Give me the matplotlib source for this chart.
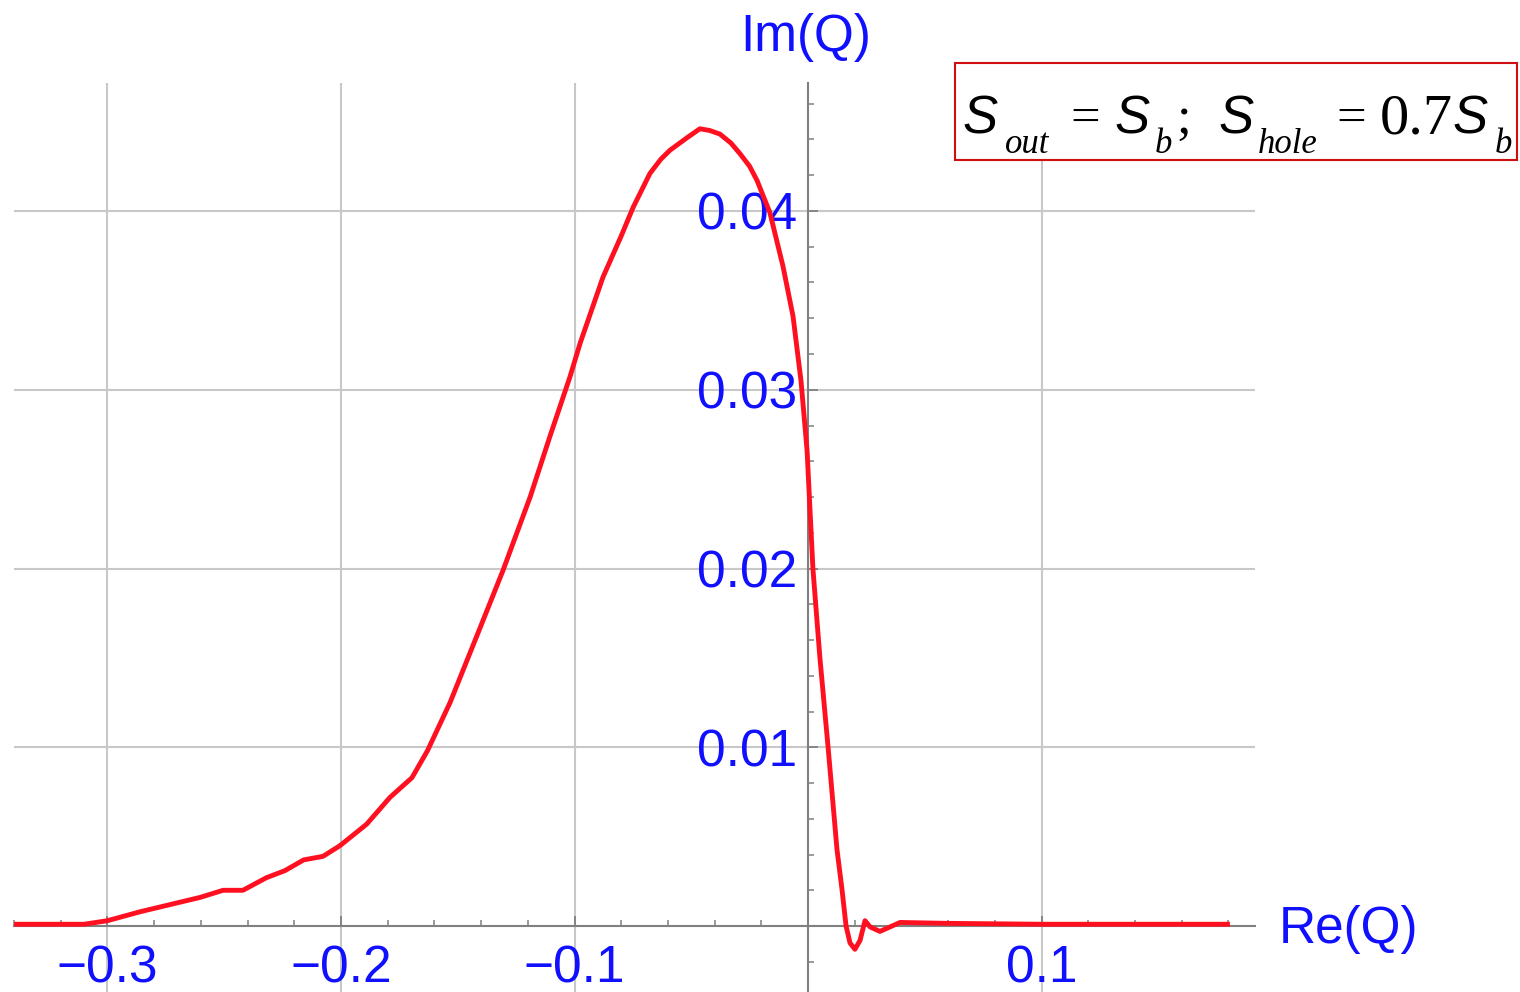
import numpy as np
import matplotlib
matplotlib.use("Agg")
import matplotlib.pyplot as plt
from matplotlib.patches import Rectangle

plt.rcParams['font.family'] = ['Liberation Sans', 'DejaVu Sans']

# curve: Re(Q) vs Im(Q)
re_q = [-0.340, -0.310, -0.300, -0.286, -0.270, -0.2604, -0.2505, -0.242, -0.232,
        -0.224, -0.216, -0.2077, -0.2004, -0.189, -0.179, -0.1696, -0.163, -0.1533,
        -0.1413, -0.1306, -0.119, -0.1105, -0.1020, -0.0976, -0.0878, -0.0800,
        -0.0749, -0.0677, -0.0630, -0.0591, -0.0518, -0.0463, -0.0420, -0.0377,
        -0.0330, -0.0291, -0.0250, -0.0218, -0.0163, -0.0107, -0.0064, -0.0030,
        -0.0004, 0.0021, 0.0051, 0.0086, 0.0124, 0.0146, 0.0163, 0.0180, 0.0201,
        0.0223, 0.0244, 0.0266, 0.0308, 0.0351, 0.0394, 0.0600, 0.1000, 0.1400, 0.1807]
im_q = [0.0001, 0.0001, 0.0003, 0.0008, 0.0013, 0.0016, 0.0020, 0.0020, 0.0027,
        0.0031, 0.0037, 0.0039, 0.0045, 0.0057, 0.0072, 0.0083, 0.0098, 0.0125,
        0.0164, 0.0199, 0.0240, 0.0274, 0.0307, 0.0326, 0.0363, 0.0386,
        0.0402, 0.0421, 0.0429, 0.0434, 0.0441, 0.0446, 0.0445, 0.0443,
        0.0438, 0.0432, 0.0425, 0.0417, 0.0399, 0.0369, 0.0341, 0.0305,
        0.0266, 0.0200, 0.0150, 0.0100, 0.0043, 0.0020, 0.0000, -0.00095, -0.0013,
        -0.0008, 0.0003, -0.00005, -0.0003, -0.00005, 0.0002, 0.00015, 0.0001, 0.0001, 0.0001]

x_major = [-0.3, -0.2, -0.1, 0.1]
x_labels = ['\u22120.3', '\u22120.2', '\u22120.1', '0.1']
y_major = [0.01, 0.02, 0.03, 0.04]
y_labels = ['0.01', '0.02', '0.03', '0.04']

blue = '#1010ff'
gray = '#808080'
W, H = 1520, 992

fig = plt.figure(figsize=(W / 100, H / 100), dpi=100)
ax = fig.add_axes([14 / W, 0, (1255 - 14) / W, (992 - 83) / H])
ax.set_xlim(-0.34004, 0.19143)
ax.set_ylim(-0.00369, 0.04716)

ax.plot(re_q, im_q, color='#ff1020', lw=3.5, zorder=3,
        solid_joinstyle='round', solid_capstyle='butt')

for s in ['top', 'right']:
    ax.spines[s].set_visible(False)
for s in ['left', 'bottom']:
    ax.spines[s].set_position(('data', 0))
    ax.spines[s].set_color(gray)
    ax.spines[s].set_linewidth(1.5)

ax.set_xticks(x_major)
ax.set_xticklabels(x_labels)
ax.set_yticks(y_major)
ax.set_yticklabels(y_labels)
xm = [v for v in np.round(np.arange(-0.34, 0.19, 0.02), 2) if v not in x_major and v != 0]
ym = [v for v in np.round(np.arange(-0.002, 0.047, 0.002), 3) if v not in y_major and v != 0]
ax.set_xticks(xm, minor=True)
ax.set_yticks(ym, minor=True)

ax.tick_params(axis='both', which='major', direction='in', length=7, width=1.3,
               color=gray, labelsize=37, labelcolor=blue)
ax.tick_params(axis='both', which='minor', direction='in', length=4.5, width=1.1, color=gray)
ax.tick_params(axis='x', which='major', pad=13)
ax.tick_params(axis='y', which='major', pad=8)

ax.grid(True, which='major', color='#c8c8c8', lw=1.5)
ax.set_axisbelow(True)


def px(x, y):
    return x / W, 1 - y / H


fig.text(*px(806, 51), 'Im(Q)', color=blue, fontsize=37, ha='center', va='baseline')
fig.text(*px(1279, 943), 'Re(Q)', color=blue, fontsize=37, ha='left', va='baseline')

# annotation box
fig.patches.append(Rectangle(px(955, 160), 562 / W, 97 / H, transform=fig.transFigure,
                             facecolor='white', edgecolor='#d01010', lw=1.5))
pieces = [
    (963, 133, 'S', 'Liberation Sans', 'italic', 38),
    (1005, 153, 'out', 'Liberation Serif', 'italic', 25),
    (1070, 133, '=', 'Liberation Serif', 'normal', 38),
    (1115, 133, 'S', 'Liberation Sans', 'italic', 38),
    (1155, 153, 'b', 'Liberation Serif', 'italic', 25),
    (1176, 133, ';', 'Liberation Serif', 'normal', 38),
    (1218, 133, 'S', 'Liberation Sans', 'italic', 38),
    (1258, 153, 'hole', 'Liberation Serif', 'italic', 25),
    (1336, 133, '=', 'Liberation Serif', 'normal', 38),
    (1380, 133, '0.7', 'Liberation Serif', 'normal', 42),
    (1452, 133, 'S', 'Liberation Sans', 'italic', 38),
    (1495, 153, 'b', 'Liberation Serif', 'italic', 25),
]
for x, y, s, fam, sty, size in pieces:
    fig.text(*px(x, y), s, family=fam, style=sty, fontsize=size, color='black',
             ha='left', va='baseline', zorder=5)

fig.savefig('out.png', dpi=100, facecolor='white')
